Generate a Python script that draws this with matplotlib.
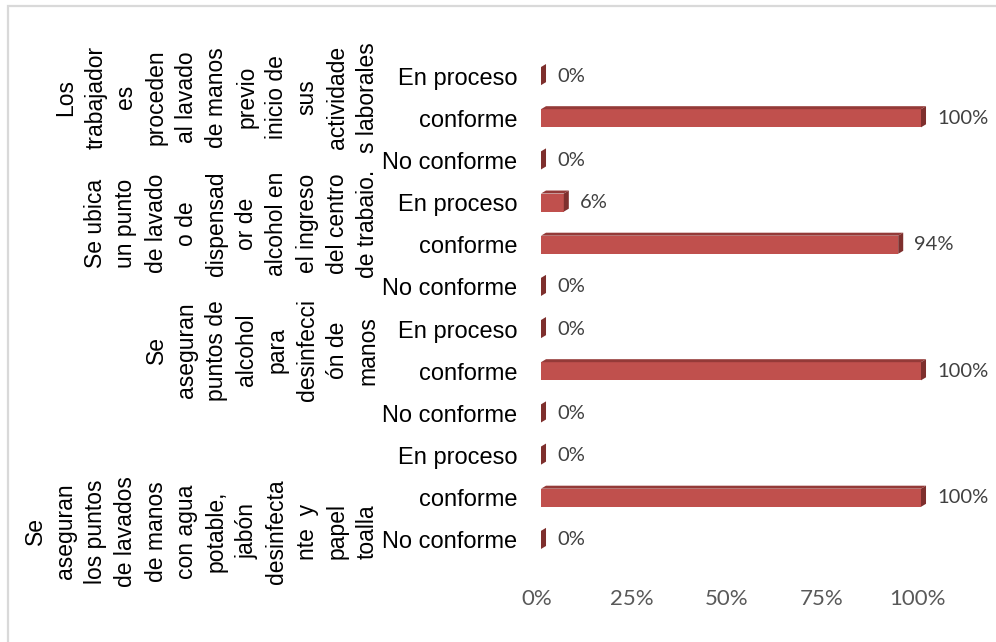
import matplotlib
matplotlib.use("Agg")
import matplotlib.pyplot as plt
from matplotlib.patches import Polygon, Rectangle
from matplotlib.transforms import ScaledTranslation, blended_transform_factory

# Items of the checklist, top to bottom (wrapped as in the report)
items = [
    "Los\ntrabajador\nes\nproceden\nal lavado\nde manos\nprevio\ninicio de\nsus\nactividade\ns laborales",
    "Se ubica\nun punto\nde lavado\no de\ndispensad\nor de\nalcohol en\nel ingreso\ndel centro\nde trabaio.",
    "Se\naseguran\npuntos de\nalcohol\npara\ndesinfecci\nón de\nmanos",
    "Se\naseguran\nlos puntos\nde lavados\nde manos\ncon agua\npotable,\njabón\ndesinfecta\nnte  y\npapel\ntoalla",
]
# answer options, bottom to top inside each item
estados = ["No conforme", "conforme", "En proceso"]
# percentages per item, in the order of estados
pct_item1 = [0, 100, 0]
pct_item2 = [0, 94, 6]
pct_item3 = [0, 100, 0]
pct_item4 = [0, 100, 0]
x_ticks = [0, 25, 50, 75, 100]

FRONT = "#C0504D"
TOP = "#943A38"
SIDE = "#7E2F2D"

# rows from the bottom: last item first
rows_lbl, rows_val = [], []
for vals in [pct_item4, pct_item3, pct_item2, pct_item1]:
    rows_lbl += estados
    rows_val += vals

W, H = 996, 642
fig = plt.figure(figsize=(W / 100, H / 100), dpi=100)
ax = fig.add_axes([541 / W, 81 / H, 418 / W, 506 / H])
ax.set_xlim(0, 110)
ax.set_ylim(-0.5, len(rows_val) - 0.5)

h = 0.43     # bar thickness (row units)
dx = 1.32    # depth to the right (value units)
dy = 0.071   # depth upwards (row units)
for y, v in enumerate(rows_val):
    b, t = y - h / 2, y + h / 2
    ax.add_patch(Rectangle((0, b), v, h, facecolor=FRONT, edgecolor="none"))
    ax.add_patch(Polygon([(0, t), (v, t), (v + dx, t + dy), (dx, t + dy)],
                         closed=True, facecolor=TOP, edgecolor="none"))
    ax.add_patch(Polygon([(v, b), (v + dx, b + dy), (v + dx, t + dy), (v, t)],
                         closed=True, facecolor=SIDE, edgecolor="none"))
    ax.text(v + dx + 2.9, y, f"{v}%", ha="left", va="center",
            fontsize=14.5, color="#404040", family="Lato")

ax.set_yticks(range(len(rows_lbl)))
ax.set_yticklabels(rows_lbl, fontsize=17, color="black", family="Liberation Sans")
ax.tick_params(axis="y", length=0, pad=17)
ax.set_xticks(x_ticks)
ax.set_xticklabels([f"{t}%" for t in x_ticks], fontsize=16, color="#595959", family="Lato")
ax.tick_params(axis="x", length=0, pad=20)
shift = ScaledTranslation(-4 / 100, 0, fig.dpi_scale_trans)
for lbl in ax.get_xticklabels():
    lbl.set_transform(lbl.get_transform() + shift)
for s in ax.spines.values():
    s.set_visible(False)

# rotated item labels, one block per group of three rows
tr = blended_transform_factory(fig.transFigure, ax.transData)
centres = [(items[0], 10.5), (items[1], 7.5), (items[2], 4.5), (items[3], 0.2)]
for txt, yc in centres:
    ax.text(379 / W, yc, txt, transform=tr, rotation=90, ha="right", va="center",
            multialignment="center", linespacing=1.40, fontsize=16.5,
            family="Liberation Sans", color="black")

# light frame around the chart
fig.add_artist(Rectangle((7.5 / W, -0.05), 1.2, (H - 5.5) / H + 0.05,
                         transform=fig.transFigure, facecolor="none",
                         edgecolor="#D9D9D9", lw=1.6))

fig.savefig("out.png", dpi=100)
